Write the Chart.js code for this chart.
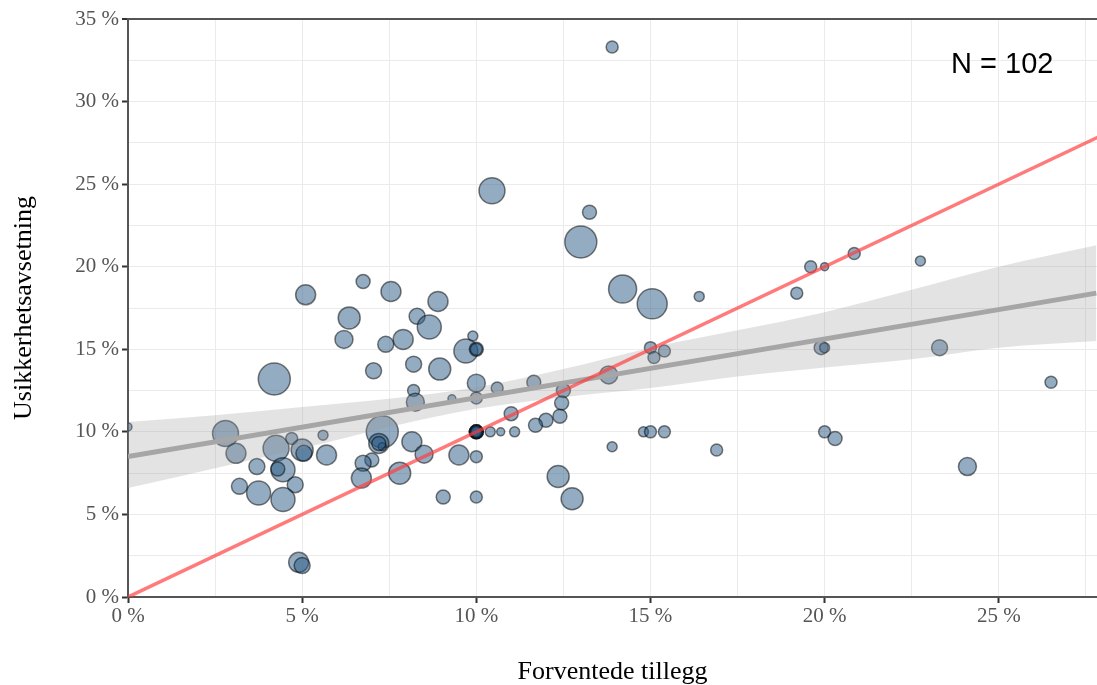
<!DOCTYPE html>
<html>
<head>
<meta charset="utf-8">
<script src="https://cdn.jsdelivr.net/npm/chart.js@4/dist/chart.umd.min.js"></script>
<style>
  html, body { margin: 0; padding: 0; background: #fff; }
  canvas { display: block; }
</style>
</head>
<body>
<canvas id="myChart" width="1097" height="685"></canvas>
<script>
// forventede tillegg (x, %), usikkerhetsavsetning (y, %), vekt (boblestørrelse)
var forventet = [0.0, 2.8, 3.1, 3.7, 4.25, 4.7, 5.0, 5.05, 5.6, 5.7, 4.45, 4.3, 4.8, 3.2, 3.75, 4.45, 4.9, 5.0,
    4.2, 5.1, 6.2, 6.75, 7.55, 8.9, 6.35, 8.3, 8.65, 7.4, 7.9, 9.9, 9.7, 10.0, 7.05, 8.2, 8.95, 8.2,
    8.25, 10.0, 10.6, 11.65, 9.3, 10.0, 12.5, 12.45, 12.4, 12.0, 11.7, 11.0, 7.3, 7.2, 7.3, 8.15, 8.5,
    7.0, 6.75, 6.7, 7.8, 9.5, 10.0, 10.0, 10.4, 10.7, 11.1, 12.35, 12.75, 9.05, 10.0, 10.45, 13.0, 13.9,
    13.25, 14.2, 15.05, 16.4, 19.2, 19.6, 20.0, 20.85, 15.0, 15.1, 15.4, 13.8, 19.9, 20.0, 14.8, 15.0,
    15.4, 13.9, 16.9, 20.0, 20.3, 22.75, 23.3, 26.5, 24.1, 10.0, 10.0, 10.0, 10.0, 10.0, 10.0, 7.2];
var usikkerhet = [10.3, 9.9, 8.7, 7.9, 9.0, 9.6, 8.9, 8.7, 9.8, 8.6, 7.7, 7.75, 6.8, 6.7, 6.3, 5.9, 2.1, 1.9,
    13.2, 18.3, 15.6, 19.1, 18.5, 17.9, 16.9, 17.0, 16.35, 15.3, 15.6, 15.8, 14.9, 15.0, 13.7, 14.1, 13.8, 12.5,
    11.8, 12.95, 12.65, 13.0, 12.0, 12.05, 12.5, 11.75, 10.95, 10.7, 10.4, 11.1, 10.0, 9.3, 9.1, 9.4, 8.65,
    8.3, 8.1, 7.2, 7.5, 8.6, 8.5, 10.0, 10.0, 10.0, 10.0, 7.3, 5.95, 6.05, 6.05, 24.6, 21.5, 33.3,
    23.3, 18.65, 17.75, 18.2, 18.4, 20.0, 20.0, 20.8, 15.1, 14.5, 14.9, 13.45, 15.1, 15.1, 10.0, 10.0,
    10.0, 9.1, 8.9, 10.0, 9.6, 20.35, 15.1, 13.0, 7.9, 10.0, 10.0, 10.0, 10.0, 10.0, 15.0, 9.3];
var vekt = [4, 13, 10, 8, 13, 6, 11, 8, 5, 10, 12, 7, 8, 8, 12, 12, 10, 8,
    16, 10, 9, 7, 10, 10, 11, 8, 12, 8, 10, 5, 12, 7, 8, 8, 11, 6,
    9, 9, 6, 7, 4, 6, 7, 7, 7, 7, 7, 7, 16, 10, 4, 10, 9,
    7, 8, 10, 11, 10, 6, 7, 5, 4, 5, 11, 11, 7, 6, 13, 16, 6,
    7, 14, 15, 5, 6, 6, 4, 6, 6, 6, 6, 9, 7, 5, 5, 6,
    6, 5, 6, 6, 7, 5, 8, 6, 9, 7, 6, 7, 5, 6, 6, 7];

// regresjonslinje og konfidensbånd (avlest)
var trendX = [0, 27.8];
var trendY = [8.5, 18.4];
var baandX = [0, 2.5, 5, 7.5, 10, 12.5, 15, 17.5, 20, 22.5, 25, 27.8];
var baandOvre = [10.6, 11.0, 11.5, 12.0, 12.7, 13.8, 15.1, 16.15, 17.25, 18.6, 20.0, 21.3];
var baandNedre = [6.6, 7.8, 9.0, 10.3, 11.4, 12.1, 12.65, 13.35, 13.9, 14.4, 15.1, 15.5];

// linje y = x
var likX = [0, 28];
var likY = [0, 28];

var antallTekst = 'N = 102';
var xTittel = 'Forventede tillegg';
var yTittel = 'Usikkerhetsavsetning';

function isMajor(v) {
    return Math.abs(v / 5 - Math.round(v / 5)) < 1e-6;
}
function pct(v) {
    return isMajor(v) ? Math.round(v) + ' %' : '';
}
function pts(xs, ys) {
    return xs.map(function (x, i) { return { x: x, y: ys[i] }; });
}

var bobler = forventet.map(function (x, i) {
    return { x: x, y: usikkerhet[i], r: vekt[i] };
});

var antallPlugin = {
    id: 'antall',
    afterDatasetsDraw: function (chart) {
        var ctx = chart.ctx;
        ctx.save();
        ctx.font = '29px "Liberation Sans", Arial, sans-serif';
        ctx.fillStyle = '#000';
        ctx.textAlign = 'center';
        ctx.textBaseline = 'middle';
        ctx.fillText(antallTekst, chart.scales.x.getPixelForValue(25.1), chart.scales.y.getPixelForValue(32.2));
        ctx.restore();
    }
};

var serif = '"Liberation Serif", "Times New Roman", serif';

new Chart(document.getElementById('myChart'), {
    type: 'scatter',
    data: {
        datasets: [
            {
                type: 'line',
                data: pts(baandX, baandOvre),
                borderWidth: 0,
                pointRadius: 0,
                tension: 0.4,
                cubicInterpolationMode: 'monotone',
                backgroundColor: 'rgba(153,153,153,0.27)',
                fill: '+1',
                order: 3
            },
            {
                type: 'line',
                data: pts(baandX, baandNedre),
                borderWidth: 0,
                pointRadius: 0,
                tension: 0.4,
                cubicInterpolationMode: 'monotone',
                fill: false,
                order: 3
            },
            {
                type: 'line',
                data: pts(trendX, trendY),
                borderColor: '#a6a6a6',
                borderWidth: 5,
                pointRadius: 0,
                fill: false,
                order: 2
            },
            {
                type: 'line',
                data: pts(likX, likY),
                borderColor: 'rgba(255,60,60,0.68)',
                borderWidth: 3.5,
                pointRadius: 0,
                fill: false,
                order: 1
            },
            {
                type: 'bubble',
                data: bobler,
                backgroundColor: 'rgba(41,89,131,0.5)',
                borderColor: 'rgba(0,0,0,0.5)',
                borderWidth: 1.5,
                clip: 0,
                order: 4
            }
        ]
    },
    options: {
        responsive: false,
        animation: false,
        layout: {
            autoPadding: false,
            padding: { top: 19, right: 0, left: 0, bottom: 0 }
        },
        plugins: {
            legend: { display: false },
            tooltip: { enabled: false }
        },
        scales: {
            x: {
                type: 'linear',
                min: 0,
                max: 27.82,
                afterFit: function (s) {
                    s.height = 88;
                    s.paddingRight = 0;
                    s.paddingLeft = 0;
                },
                border: { color: '#555', width: 2 },
                grid: {
                    color: '#ebebeb',
                    lineWidth: 1,
                    borderDash: function (c) { return isMajor(c.tick.value) ? [] : [2, 4]; },
                    tickColor: function (c) { return isMajor(c.tick.value) ? '#333' : 'rgba(0,0,0,0)'; },
                    tickLength: 6,
                    tickWidth: 2
                },
                ticks: {
                    stepSize: 2.5,
                    includeBounds: false,
                    autoSkip: false,
                    maxRotation: 0,
                    callback: pct,
                    color: '#555',
                    padding: 1,
                    font: { family: serif, size: 21 }
                },
                title: {
                    display: true,
                    text: xTittel,
                    color: '#000',
                    font: { family: serif, size: 26 },
                    padding: { top: 0, bottom: -3 }
                }
            },
            y: {
                type: 'linear',
                min: 0,
                max: 35,
                afterFit: function (s) { s.width = 128; },
                border: { color: '#555', width: 2 },
                grid: {
                    color: function (c) { return c.tick.value === 35 ? '#555' : '#ebebeb'; },
                    lineWidth: function (c) { return c.tick.value === 35 ? 2 : 1; },
                    borderDash: function (c) { return isMajor(c.tick.value) ? [] : [2, 4]; },
                    tickColor: function (c) { return isMajor(c.tick.value) ? '#333' : 'rgba(0,0,0,0)'; },
                    tickLength: 6,
                    tickWidth: 2
                },
                ticks: {
                    stepSize: 2.5,
                    autoSkip: false,
                    callback: pct,
                    color: '#555',
                    padding: 3,
                    font: { family: serif, size: 21 }
                },
                title: {
                    display: true,
                    text: yTittel,
                    color: '#000',
                    font: { family: serif, size: 26 },
                    padding: { top: 9, bottom: 0 }
                }
            }
        }
    },
    plugins: [antallPlugin]
});
</script>
</body>
</html>
